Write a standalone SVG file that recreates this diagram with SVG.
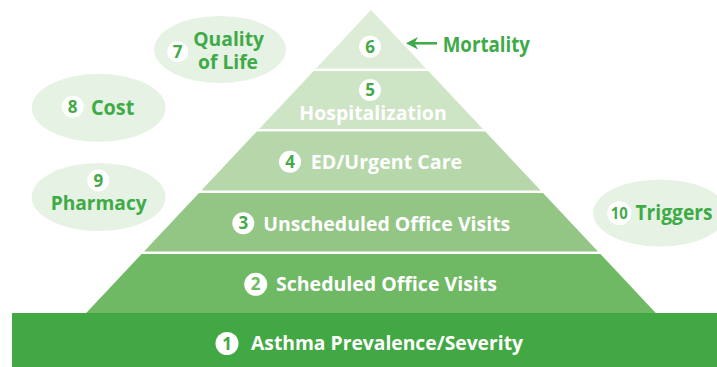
<svg xmlns="http://www.w3.org/2000/svg" width="717" height="367" viewBox="0 0 717 367">
<defs>
<style>
.lbl{font-family:"Open Sans","Noto Sans",sans-serif;font-weight:700;}
.out{fill:#3eaa48;font-size:20px;}
.tier{fill:#ffffff;font-size:20px;}
.num{font-family:"Open Sans","Noto Sans",sans-serif;font-weight:700;font-size:17px;text-anchor:middle;fill:#45a94a;}
.dot{fill:#ffffff;}
.oval{fill:#e6f2e3;}
.conn{stroke:#3eaa48;stroke-width:2.5;fill:none;}
.head{fill:#3eaa48;}
</style>
</defs>
<rect width="717" height="367" fill="#ffffff"/>

<g id="n1-asthma">
<rect x="12" y="313" width="705" height="54" fill="#42a843"/>
<circle class="dot" cx="227" cy="343.5" r="11.5"/>
<text class="num" x="227" y="349.5" style="fill:#42a843">1</text>
<text class="lbl tier" x="251" y="350.3" textLength="272" lengthAdjust="spacingAndGlyphs">Asthma Prevalence/Severity</text>
</g>

<g id="n2-scheduled">
<polygon points="141.6,254 600.4,254 655.8,313 86.2,313" fill="#6fb864"/>
<circle class="dot" cx="255.7" cy="284.3" r="11.5"/>
<text class="num" x="255.7" y="290.3" style="fill:#6fb864">2</text>
<text class="lbl tier" x="276" y="291.3" textLength="221" lengthAdjust="spacingAndGlyphs">Scheduled Office Visits</text>
</g>

<g id="n3-unscheduled">
<polygon points="199,193 543,193 598,251.5 144,251.5" fill="#93c685"/>
<circle class="dot" cx="243.3" cy="223.3" r="11"/>
<text class="num" x="243.3" y="229.3">3</text>
<text class="lbl tier" x="263.3" y="230.7" textLength="247" lengthAdjust="spacingAndGlyphs">Unscheduled Office Visits</text>
</g>

<g id="n4-ed">
<polygon points="256.8,131.5 485.2,131.5 540.7,190.5 201.3,190.5" fill="#b5d7a9"/>
<circle class="dot" cx="290" cy="161.7" r="11"/>
<text class="num" x="290" y="167.7">4</text>
<text class="lbl tier" x="310.7" y="169.3" textLength="151.5" lengthAdjust="spacingAndGlyphs">ED/Urgent Care</text>
</g>

<g id="n5-hospitalization">
<polygon points="313.7,71 428.3,71 482.9,129 259.1,129" fill="#cde4c5"/>
<circle class="dot" cx="370" cy="90" r="11"/>
<text class="num" x="370" y="96">5</text>
<text class="lbl tier" x="299.3" y="120" textLength="147.4" lengthAdjust="spacingAndGlyphs">Hospitalization</text>
</g>

<g id="n6-top">
<polygon points="371,10 426,68.5 316,68.5" fill="#dcecd6"/>
<circle class="dot" cx="370" cy="46.7" r="11"/>
<text class="num" x="370" y="52.7">6</text>
</g>

<g id="mortality">
<text class="lbl out" x="442.7" y="51.7" style="font-size:21px" textLength="87.3" lengthAdjust="spacingAndGlyphs">Mortality</text>
</g>

<g id="n7-quality">
<ellipse class="oval" cx="220" cy="49.5" rx="66" ry="33.5"/>
<circle class="dot" cx="177.7" cy="51.7" r="10.5"/>
<text class="num" x="177.7" y="57.7">7</text>
<text class="lbl out" x="193.3" y="46" textLength="70.7" lengthAdjust="spacingAndGlyphs">Quality</text>
<text class="lbl out" x="198" y="68.5" textLength="60" lengthAdjust="spacingAndGlyphs">of Life</text>
</g>

<g id="n8-cost">
<ellipse class="oval" cx="98.7" cy="107.8" rx="67" ry="34"/>
<circle class="dot" cx="72.7" cy="106.7" r="11"/>
<text class="num" x="72.7" y="112.7">8</text>
<text class="lbl out" x="91" y="115" style="font-size:21px" textLength="43.3" lengthAdjust="spacingAndGlyphs">Cost</text>
</g>

<g id="n9-pharmacy">
<ellipse class="oval" cx="98.7" cy="197" rx="67" ry="34"/>
<circle class="dot" cx="98.3" cy="180.5" r="11"/>
<text class="num" x="98.3" y="186.5">9</text>
<text class="lbl out" x="50.7" y="210" textLength="96" lengthAdjust="spacingAndGlyphs">Pharmacy</text>
</g>

<g id="n10-triggers">
<ellipse class="oval" cx="660" cy="213" rx="67" ry="33.5"/>
<circle class="dot" cx="619.3" cy="213.3" r="12"/>
<text class="num" x="619.3" y="219.3" style="font-size:16px" textLength="17" lengthAdjust="spacingAndGlyphs">10</text>
<text class="lbl out" x="635.5" y="220" style="font-size:21px" textLength="77" lengthAdjust="spacingAndGlyphs">Triggers</text>
</g>

<g id="connectors">
<line class="conn" x1="437" y1="43.3" x2="414" y2="43.3"/>
<polygon class="head" points="406,43.3 418,37 414.5,43.3 418,49.6"/>
</g>
</svg>
